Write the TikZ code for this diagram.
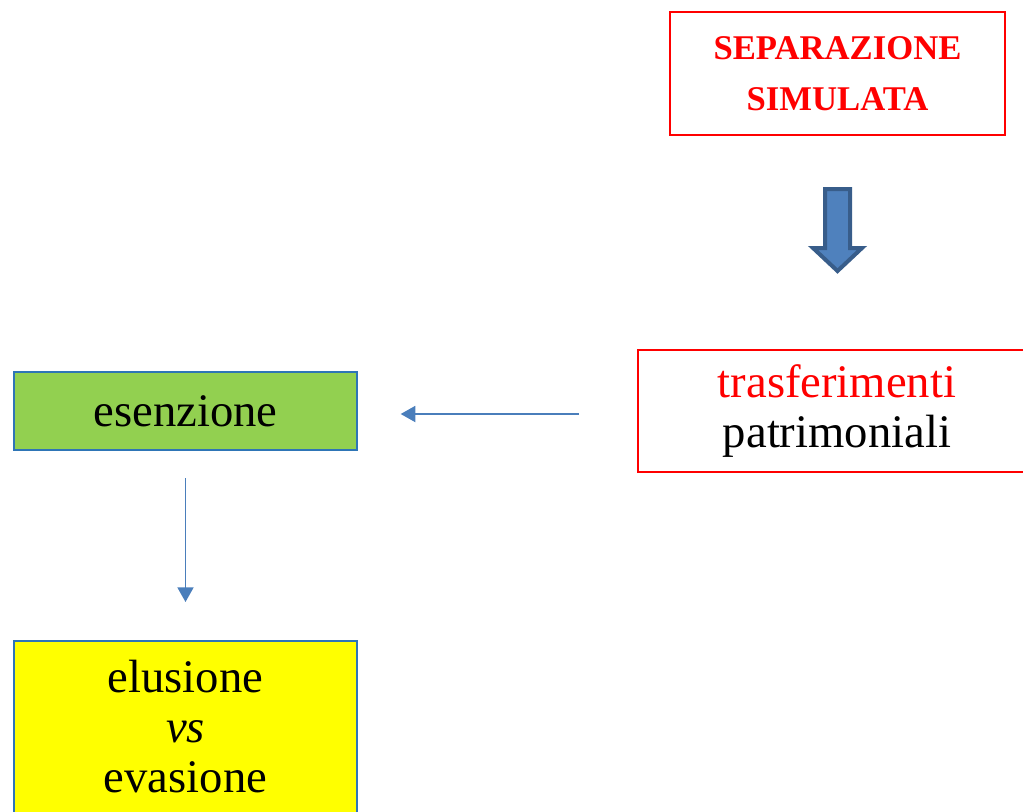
\documentclass[tikz,border=0pt]{standalone}
\usepackage{fontspec}
\setmainfont{Liberation Serif}
\usetikzlibrary{arrows.meta}
\definecolor{rosso}{RGB}{255,0,0}
\definecolor{verde}{RGB}{146,208,80}
\definecolor{giallo}{RGB}{255,255,0}
\definecolor{blubordo}{RGB}{46,117,182}
\definecolor{blufreccia}{RGB}{74,126,187}
\definecolor{blupieno}{RGB}{79,129,189}
\definecolor{bluscuro}{RGB}{56,93,138}

\begin{document}
\begin{tikzpicture}[x=0.75pt,y=0.75pt,yscale=-1,xscale=1,
	boxrosso/.style={draw=rosso,line width=1.5pt,inner sep=0pt,align=center},
	boxblu/.style={draw=blubordo,line width=1.5pt,inner sep=0pt,align=center},
	testo/.style={font=\fontsize{35}{37.5}\selectfont},
	freccia/.style={draw=blufreccia,line width=1.4pt,-{Triangle[length=11pt,width=12pt]}}]
	\clip (0,0) rectangle (1023,811);

	% riquadri
	\node [boxrosso, minimum width=251.25pt, minimum height=92.25pt, text=rosso, font=\bfseries\fontsize{26}{38}\selectfont] (sep) at (837.5,73.5) {SEPARAZIONE\\SIMULATA};
	\node [boxrosso, testo, minimum width=298.5pt, minimum height=91.5pt] (trasf) at (837,411) {\textcolor{rosso}{trasferimenti}\\patrimoniali};
	\node [boxblu, testo, fill=verde, minimum width=257.25pt, minimum height=58.5pt] (esen) at (185.5,411) {esenzione};
	\node [boxblu, testo, fill=giallo, minimum width=257.25pt, minimum height=129pt] (elus) at (185.5,727) {elusione\\\textit{vs}\\evasione};

	% frecce
	\draw [fill=blupieno, draw=bluscuro, line width=3pt]  (825,189) -- (850,189) -- (850,248) -- (862,248) -- (837.5,271) -- (813,248) -- (825,248) -- cycle ;
	\draw [freccia, shorten <=43.5pt, shorten >=32pt]  ([yshift=2.25pt]trasf.west) -- ([yshift=2.25pt]esen.east) ;
	\draw [freccia, shorten <=20.25pt, shorten >=28.5pt]  (esen.south) -- (elus.north) ;
\end{tikzpicture}
\end{document}
